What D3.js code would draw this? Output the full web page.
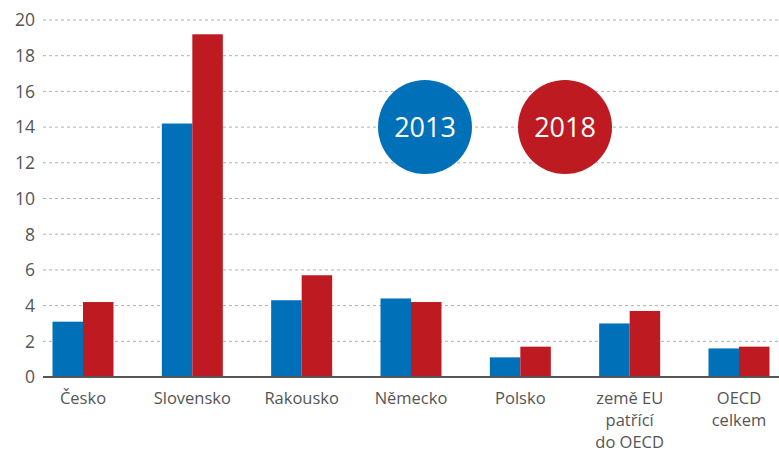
<!DOCTYPE html>
<html>
<head>
<meta charset="utf-8">
<script src="https://cdn.jsdelivr.net/npm/d3@7"></script>
<style>
  body { margin: 0; background: #fff; }
  svg text { font-family: "Open Sans", "Noto Sans", sans-serif; }
</style>
</head>
<body>
<div id="chart"></div>
<script>
var categories = [['Česko'], ['Slovensko'], ['Rakousko'], ['Německo'], ['Polsko'], ['země EU', 'patřící', 'do OECD'], ['OECD', 'celkem']]
var years = ['2013', '2018']
var values2013 = [3.1, 14.2, 4.3, 4.4, 1.1, 3.0, 1.6]
var values2018 = [4.2, 19.2, 5.7, 4.2, 1.7, 3.7, 1.7]
var yTicks = [0, 2, 4, 6, 8, 10, 12, 14, 16, 18, 20]
var colors = ['#0070b8', '#be1a21']

var width = 779
var height = 455
var barW = 30.5

var svg = d3.select('#chart').append('svg').attr('width', width).attr('height', height)

var y = d3.scaleLinear().domain([0, 20]).range([377, 20])
var x = d3.scalePoint().domain(d3.range(categories.length)).range([83, 739])

// grid
svg.append('g').selectAll('line')
  .data(yTicks.filter(function(t) { return t > 0 }))
  .enter().append('line')
  .attr('x1', 43).attr('x2', width)
  .attr('y1', function(d) { return y(d) }).attr('y2', function(d) { return y(d) })
  .style('stroke', '#b0b0b0').style('stroke-width', 1).style('stroke-dasharray', '3,3')

// y labels
svg.append('g').selectAll('text')
  .data(yTicks)
  .enter().append('text')
  .attr('x', 35).attr('y', function(d) { return y(d) })
  .attr('dy', '0.36em')
  .attr('text-anchor', 'end')
  .style('font-size', '17.5px').style('fill', '#555')
  .text(function(d) { return d })

// bars
var series = [values2013, values2018]
series.forEach(function(vals, s) {
  svg.append('g').selectAll('rect')
    .data(vals)
    .enter().append('rect')
    .attr('x', function(d, i) { return x(i) + (s === 0 ? -barW : 0) })
    .attr('width', barW)
    .attr('y', function(d) { return y(d) })
    .attr('height', function(d) { return y(0) - y(d) })
    .style('fill', colors[s])
})

// baseline
svg.append('line')
  .attr('x1', 43).attr('x2', width)
  .attr('y1', y(0)).attr('y2', y(0))
  .style('stroke', '#555').style('stroke-width', 2)

// category labels
var cat = svg.append('g').selectAll('text')
  .data(categories)
  .enter().append('text')
  .attr('text-anchor', 'middle')
  .style('font-size', '16.5px').style('fill', '#555')

cat.selectAll('tspan')
  .data(function(d, i) { return d.map(function(line) { return { line: line, i: i } }) })
  .enter().append('tspan')
  .attr('x', function(d) { return x(d.i) })
  .attr('y', function(d, j) { return 404 + j * 22 })
  .text(function(d) { return d.line })

// legend circles
var legend = svg.append('g').selectAll('g')
  .data(years)
  .enter().append('g')
  .attr('transform', function(d, i) { return 'translate(' + (425 + i * 140) + ',127)' })

legend.append('circle').attr('r', 47).style('fill', function(d, i) { return colors[i] })
legend.append('text')
  .attr('text-anchor', 'middle').attr('dy', '0.36em')
  .style('font-size', '27px').style('fill', '#fff')
  .text(function(d) { return d })
</script>
</body>
</html>
